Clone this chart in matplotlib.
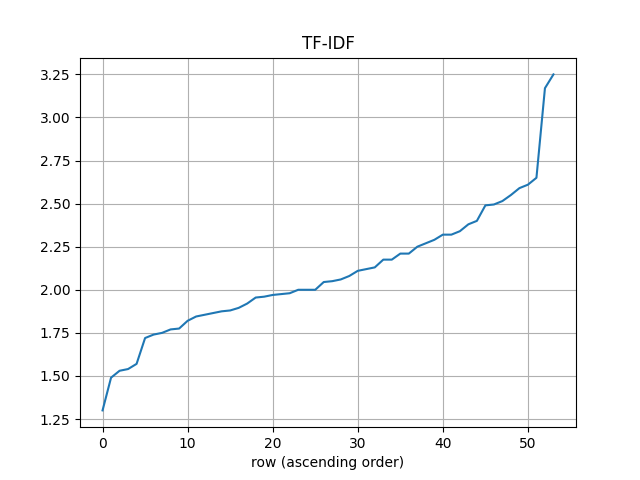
import matplotlib
matplotlib.use("Agg")
import matplotlib.pyplot as plt

tfidf = [1.30, 1.49, 1.53, 1.54, 1.57, 1.72, 1.74, 1.75, 1.77, 1.775,
         1.82, 1.845, 1.855, 1.865, 1.875, 1.88, 1.895, 1.92, 1.955, 1.96,
         1.97, 1.975, 1.98, 2.0, 2.0, 2.0, 2.045, 2.05, 2.06, 2.08,
         2.11, 2.12, 2.13, 2.175, 2.175, 2.21, 2.21, 2.25, 2.27, 2.29,
         2.32, 2.32, 2.34, 2.38, 2.40, 2.49, 2.495, 2.515, 2.55, 2.59,
         2.61, 2.65, 3.17, 3.25]

fig, ax = plt.subplots(figsize=(6.4, 4.8), dpi=100)
ax.plot(range(len(tfidf)), tfidf)
ax.set_title("TF-IDF")
ax.set_xlabel("row (ascending order)")
ax.grid(True)
fig.savefig("out.png")
